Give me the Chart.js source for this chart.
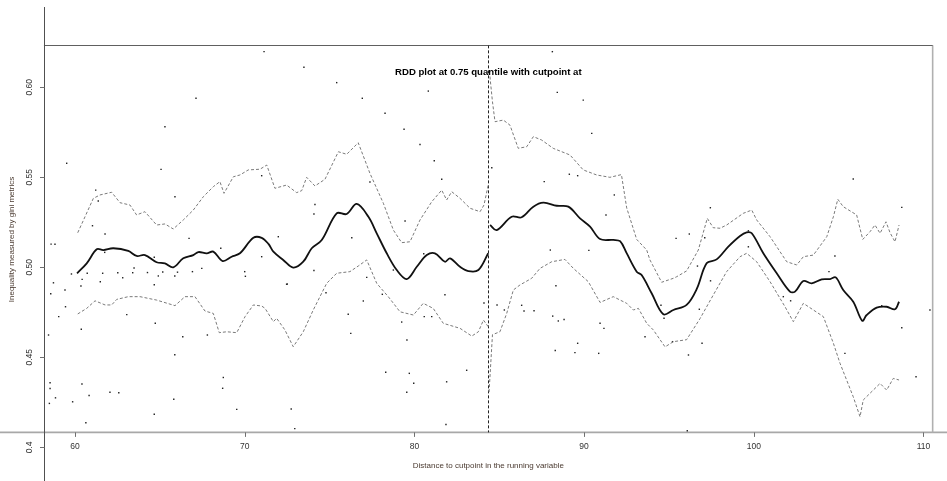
<!DOCTYPE html>
<html>
<head>
<meta charset="utf-8">
<script src="https://cdn.jsdelivr.net/npm/chart.js@4"></script>
<style>
html,body{margin:0;padding:0;background:#fff;}
canvas{display:block;}
</style>
</head>
<body>
<canvas id="c" width="947" height="481"></canvas>
<script>
// ---------------- DATA ----------------
const chartTitle = 'RDD plot at 0.75 quantile with cutpoint at';
const xAxisTitle = 'Distance to cutpoint in the running variable';
const yAxisTitle = 'Inequality measured by gini metrics';
const xTicks = [60, 70, 80, 90, 100, 110];
const xTickLabels = ['60', '70', '80', '90', '100', '110'];
const yTicks = [0.40, 0.45, 0.50, 0.55, 0.60];
const yTickLabels = ['0.4', '0.45', '0.50', '0.55', '0.60'];
const cutpoint = 84.35;

const observations = [[71.14,0.6198],[73.49,0.6111],[75.42,0.6026],[67.13,0.5939],[76.93,0.5939],[80.82,0.5979],[78.27,0.5856],[65.30,0.5781],[79.39,0.5767],[80.33,0.5682],[59.51,0.5578],[65.07,0.5544],[81.17,0.5592],[81.61,0.5489],[88.13,0.6198],[88.42,0.5972],[89.95,0.5929],[90.45,0.5744],[89.13,0.5517],[89.62,0.5509],[87.65,0.5476],[91.78,0.5402],[91.29,0.5291],[88.01,0.5096],[90.28,0.5094],[74.14,0.5349],[79.45,0.5257],[76.31,0.5164],[80.55,0.5075],[74.08,0.4982],[77.19,0.4944],[77.38,0.5474],[74.08,0.5296],[71.98,0.5170],[71.00,0.5059],[78.76,0.4985],[72.47,0.4906],[74.79,0.4859],[78.11,0.4850],[81.80,0.4848],[76.99,0.4813],[84.10,0.4802],[76.10,0.4739],[79.25,0.4696],[80.58,0.4726],[81.02,0.4726],[76.25,0.4633],[79.56,0.4596],[84.87,0.4791],[85.30,0.4763],[86.32,0.4789],[86.46,0.4757],[87.05,0.4759],[88.15,0.4729],[88.48,0.4702],[88.82,0.4710],[90.94,0.4689],[91.17,0.4661],[89.62,0.4578],[88.30,0.4538],[89.46,0.4526],[90.86,0.4522],[83.08,0.4428],[81.90,0.4364],[81.86,0.4127],[94.53,0.4789],[94.71,0.4717],[93.59,0.4614],[95.21,0.4587],[96.15,0.4513],[96.79,0.4767],[96.95,0.4578],[96.08,0.4092],[84.56,0.5553],[95.42,0.5161],[96.20,0.5185],[97.11,0.5164],[97.44,0.5331],[96.68,0.5007],[97.45,0.4925],[88.34,0.4898],[105.86,0.5491],[108.72,0.5333],[99.68,0.5203],[99.68,0.5114],[104.78,0.5063],[104.43,0.4976],[101.74,0.4837],[102.17,0.4814],[107.54,0.4787],[110.38,0.4763],[108.72,0.4664],[105.37,0.4522],[109.56,0.4392],[65.89,0.5392],[61.22,0.5429],[61.37,0.5368],[71.00,0.5509],[61.03,0.5231],[61.77,0.5185],[66.72,0.5161],[58.59,0.5129],[58.82,0.5128],[68.59,0.5106],[61.75,0.5083],[64.67,0.5056],[63.48,0.4996],[67.47,0.4994],[59.79,0.4963],[60.72,0.4967],[61.63,0.4967],[62.52,0.4970],[63.40,0.4970],[64.27,0.4971],[65.17,0.4974],[66.04,0.4973],[66.92,0.4976],[70.00,0.4976],[70.04,0.4950],[62.81,0.4942],[60.42,0.4933],[64.91,0.4952],[65.88,0.4952],[58.73,0.4914],[60.35,0.4896],[61.49,0.4920],[64.67,0.4903],[59.41,0.4874],[58.57,0.4853],[59.44,0.4781],[63.05,0.4737],[59.04,0.4726],[64.73,0.4689],[60.37,0.4656],[58.44,0.4624],[67.80,0.4624],[66.35,0.4614],[65.88,0.4514],[68.74,0.4388],[68.70,0.4328],[58.53,0.4359],[58.53,0.4327],[60.41,0.4352],[58.85,0.4275],[60.83,0.4288],[62.06,0.4306],[62.58,0.4303],[58.49,0.4244],[59.86,0.4253],[65.82,0.4267],[69.53,0.4211],[64.67,0.4184],[60.64,0.4137],[72.74,0.4213],[72.95,0.4104],[72.51,0.4907],[78.31,0.4417],[79.70,0.4411],[79.96,0.4356],[79.55,0.4306]];

const fitLeft = [[60.12,0.4967],[60.69,0.5022],[61.28,0.5100],[61.67,0.5096],[62.26,0.5106],[63.14,0.5091],[63.63,0.5063],[64.12,0.5068],[64.81,0.5028],[65.30,0.5022],[65.79,0.5000],[66.38,0.5050],[66.97,0.5068],[67.27,0.5085],[67.76,0.5078],[68.15,0.5087],[68.70,0.5035],[69.23,0.5059],[69.72,0.5078],[70.51,0.5164],[71.00,0.5164],[71.40,0.5130],[71.69,0.5087],[72.27,0.5041],[72.86,0.4998],[73.45,0.5031],[73.95,0.5106],[74.54,0.5152],[75.42,0.5300],[76.01,0.5296],[76.60,0.5352],[77.29,0.5281],[77.78,0.5189],[78.37,0.5078],[78.96,0.4985],[79.55,0.4935],[80.14,0.5003],[80.73,0.5068],[81.21,0.5078],[81.80,0.5031],[82.10,0.5050],[82.69,0.5003],[83.18,0.4979],[83.77,0.4985],[84.35,0.5078]];

const fitRight = [[84.46,0.5235],[84.85,0.5207],[85.73,0.5281],[86.32,0.5278],[87.01,0.5337],[87.60,0.5359],[88.39,0.5342],[89.07,0.5337],[89.76,0.5272],[90.35,0.5226],[90.94,0.5157],[91.72,0.5152],[92.12,0.5145],[92.50,0.5080],[93.10,0.4976],[93.39,0.4957],[93.98,0.4856],[94.67,0.4739],[95.26,0.4763],[96.04,0.4791],[96.64,0.4880],[97.22,0.5022],[97.81,0.5044],[98.50,0.5115],[99.19,0.5174],[99.58,0.5194],[99.88,0.5189],[100.56,0.5078],[101.35,0.4967],[102.13,0.4865],[102.43,0.4865],[102.92,0.4924],[103.41,0.4911],[104.00,0.4933],[104.49,0.4935],[104.83,0.4944],[105.27,0.4874],[105.86,0.4809],[106.39,0.4703],[106.65,0.4735],[107.24,0.4776],[107.83,0.4781],[108.32,0.4767],[108.56,0.4809]];

const upperLeft = [[60.16,0.5192],[60.59,0.5281],[61.08,0.5383],[61.47,0.5402],[62.16,0.5417],[62.65,0.5359],[63.24,0.5346],[63.63,0.5291],[64.12,0.5309],[64.81,0.5235],[65.30,0.5241],[65.79,0.5213],[66.38,0.5263],[66.97,0.5318],[67.56,0.5392],[68.15,0.5448],[68.54,0.5476],[68.78,0.5411],[69.33,0.5503],[69.72,0.5513],[70.21,0.5541],[70.90,0.5545],[71.30,0.5568],[71.78,0.5439],[72.47,0.5457],[73.06,0.5415],[73.36,0.5426],[73.65,0.5500],[74.14,0.5452],[74.73,0.5489],[75.52,0.5642],[76.01,0.5628],[76.69,0.5692],[77.38,0.5522],[78.17,0.5356],[78.76,0.5207],[79.25,0.5137],[79.74,0.5142],[80.33,0.5263],[81.02,0.5364],[81.61,0.5429],[81.90,0.5374],[82.20,0.5420],[82.69,0.5383],[83.28,0.5328],[83.87,0.5309],[84.10,0.5346],[84.35,0.5457]];

const upperRight = [[84.45,0.6060],[84.60,0.5920],[84.75,0.5809],[85.24,0.5818],[85.63,0.5790],[86.12,0.5661],[86.62,0.5670],[87.01,0.5726],[87.50,0.5707],[88.18,0.5661],[89.17,0.5624],[89.95,0.5541],[90.74,0.5513],[91.52,0.5500],[92.20,0.5515],[92.51,0.5330],[93.10,0.5155],[93.69,0.5096],[93.88,0.5041],[94.57,0.4917],[95.26,0.4939],[95.46,0.4948],[96.04,0.4980],[96.73,0.5096],[97.26,0.5272],[97.61,0.5220],[98.01,0.5217],[98.40,0.5235],[99.38,0.5300],[99.88,0.5318],[100.17,0.5263],[100.96,0.5170],[101.94,0.5031],[102.53,0.5013],[102.92,0.5059],[103.51,0.5068],[104.30,0.5170],[104.69,0.5281],[104.95,0.5378],[105.27,0.5337],[106.06,0.5291],[106.42,0.5155],[106.85,0.5198],[107.14,0.5235],[107.44,0.5189],[107.79,0.5253],[108.03,0.5192],[108.32,0.5142],[108.56,0.5235]];

const lowerLeft = [[60.16,0.4741],[60.69,0.4772],[61.18,0.4814],[61.77,0.4791],[62.16,0.4791],[62.46,0.4822],[63.14,0.4837],[63.83,0.4837],[64.81,0.4818],[65.89,0.4787],[66.48,0.4837],[67.07,0.4837],[67.66,0.4757],[68.15,0.4744],[68.50,0.4637],[68.94,0.4642],[69.53,0.4637],[70.02,0.4726],[70.51,0.4791],[71.00,0.4785],[71.20,0.4772],[71.69,0.4698],[71.88,0.4717],[72.37,0.4652],[72.86,0.4559],[73.45,0.4642],[74.04,0.4763],[74.83,0.4911],[75.42,0.4967],[76.20,0.4976],[76.69,0.5007],[77.19,0.5041],[77.78,0.4911],[78.46,0.4837],[79.15,0.4753],[79.94,0.4735],[80.52,0.4800],[81.11,0.4772],[81.70,0.4689],[82.69,0.4661],[83.38,0.4618],[83.77,0.4642],[84.07,0.4707],[84.35,0.4670]];

const lowerRight = [[84.40,0.4307],[84.60,0.4626],[85.04,0.4642],[85.44,0.4744],[85.83,0.4874],[86.22,0.4902],[86.91,0.4939],[87.40,0.4994],[88.09,0.5031],[88.87,0.5044],[89.37,0.4994],[90.25,0.4920],[90.94,0.4805],[91.72,0.4837],[92.51,0.4800],[92.90,0.4763],[93.20,0.4772],[93.69,0.4689],[94.08,0.4652],[94.77,0.4558],[95.26,0.4587],[96.04,0.4598],[96.83,0.4715],[97.61,0.4846],[98.40,0.4976],[99.19,0.5059],[99.58,0.5078],[100.17,0.5031],[100.96,0.4920],[101.84,0.4781],[102.33,0.4698],[102.92,0.4800],[103.51,0.4763],[104.10,0.4726],[104.69,0.4578],[105.08,0.4467],[105.86,0.4281],[106.26,0.4170],[106.45,0.4263],[107.04,0.4318],[107.44,0.4355],[107.83,0.4318],[108.22,0.4383],[108.56,0.4374]];

// plot frame (in data units)
const frameLeft = 58.17, frameRight = 110.54, frameTop = 0.6233, frameBottom = 0.4083, leftAxisTop = 0.6446;

// ---------------- CHART ----------------
const toPts = arr => arr.map(p => ({x: p[0], y: p[1]}));

function bandDs(arr) {
  return {type: 'line', data: toPts(arr), borderColor: '#7a7a7a', borderWidth: 1,
    borderDash: [3, 2], pointRadius: 0, tension: 0, fill: false};
}
function fitDs(arr) {
  return {type: 'line', data: toPts(arr), borderColor: '#111', borderWidth: 1.8,
    pointRadius: 0, tension: 0.35, fill: false};
}

const framePlugin = {
  id: 'rframe',
  beforeDatasetsDraw(chart) {
    const ctx = chart.ctx, xs = chart.scales.x, ys = chart.scales.y;
    const X = v => xs.getPixelForValue(v), Y = v => ys.getPixelForValue(v);
    const W = chart.width, H = chart.height;
    ctx.save();
    ctx.lineCap = 'butt';
    ctx.strokeStyle = '#a8a8a8'; ctx.lineWidth = 1.6;
    ctx.beginPath(); ctx.moveTo(0, Y(frameBottom)); ctx.lineTo(W, Y(frameBottom)); ctx.stroke();
    ctx.strokeStyle = '#b0b0b0'; ctx.lineWidth = 1.6;
    ctx.beginPath(); ctx.moveTo(X(frameRight), Y(frameTop)); ctx.lineTo(X(frameRight), Y(frameBottom)); ctx.stroke();
    ctx.strokeStyle = '#606060'; ctx.lineWidth = 1;
    const ty = Math.round(Y(frameTop)) + 0.5;
    ctx.beginPath(); ctx.moveTo(X(frameLeft), ty); ctx.lineTo(X(frameRight), ty); ctx.stroke();
    ctx.strokeStyle = '#505050';
    const lx = Math.round(X(frameLeft)) + 0.5;
    ctx.beginPath(); ctx.moveTo(lx, Y(leftAxisTop)); ctx.lineTo(lx, H); ctx.stroke();
    ctx.strokeStyle = '#707070';
    const by = Y(frameBottom);
    xTicks.forEach(t => {
      const x = Math.round(X(t)) + 0.5;
      ctx.beginPath(); ctx.moveTo(x, by); ctx.lineTo(x, by + 4.5); ctx.stroke();
    });
    yTicks.forEach(t => {
      const y = Math.round(Y(t)) + 0.5;
      ctx.beginPath(); ctx.moveTo(lx, y); ctx.lineTo(lx - 4.5, y); ctx.stroke();
    });
    ctx.strokeStyle = '#222'; ctx.lineWidth = 1; ctx.setLineDash([3, 2]);
    const cx = Math.round(X(cutpoint)) + 0.5;
    ctx.beginPath(); ctx.moveTo(cx, Y(frameTop)); ctx.lineTo(cx, Y(frameBottom)); ctx.stroke();
    ctx.restore();
  },
  afterDraw(chart) {
    const ctx = chart.ctx, xs = chart.scales.x, ys = chart.scales.y;
    const X = v => xs.getPixelForValue(v), Y = v => ys.getPixelForValue(v);
    const by = Y(frameBottom), lx = X(frameLeft);
    const midX = (X(frameLeft) + X(frameRight)) / 2;
    ctx.save();
    ctx.fillStyle = '#333';
    ctx.textAlign = 'center'; ctx.textBaseline = 'middle';
    ctx.font = '8.5px "Liberation Sans", Arial, sans-serif';
    xTicks.forEach((t, i) => ctx.fillText(xTickLabels[i], X(t), by + 14.5));
    yTicks.forEach((t, i) => {
      ctx.save(); ctx.translate(lx - 14, Y(t)); ctx.rotate(-Math.PI / 2);
      ctx.fillText(yTickLabels[i], 0, 0); ctx.restore();
    });
    ctx.font = '8px "Liberation Sans", Arial, sans-serif';
    ctx.fillStyle = '#4a3a30';
    ctx.fillText(xAxisTitle, midX, by + 33.5);
    ctx.save(); ctx.translate(lx - 32.3, 239.5); ctx.rotate(-Math.PI / 2);
    ctx.fillText(yAxisTitle, 0, 0); ctx.restore();
    ctx.fillStyle = '#000';
    ctx.font = 'bold 9.6px "Liberation Sans", Arial, sans-serif';
    ctx.fillText(chartTitle, midX, Y(frameTop) + 26.7);
    ctx.restore();
  }
};

new Chart(document.getElementById('c'), {
  type: 'scatter',
  data: {
    datasets: [
      bandDs(upperLeft), bandDs(upperRight), bandDs(lowerLeft), bandDs(lowerRight),
      fitDs(fitLeft), fitDs(fitRight),
      {type: 'scatter', data: toPts(observations), pointStyle: 'rect', pointRadius: 1,
       backgroundColor: '#222', borderWidth: 0}
    ]
  },
  options: {
    responsive: false,
    devicePixelRatio: 1,
    animation: false,
    layout: {padding: 0, autoPadding: false},
    plugins: {legend: {display: false}, tooltip: {enabled: false}, title: {display: false}},
    scales: {
      x: {type: 'linear', min: 55.58, max: 111.385, display: false},
      y: {type: 'linear', min: 0.3813, max: 0.6485, display: false}
    }
  },
  plugins: [framePlugin]
});
</script>
</body>
</html>
